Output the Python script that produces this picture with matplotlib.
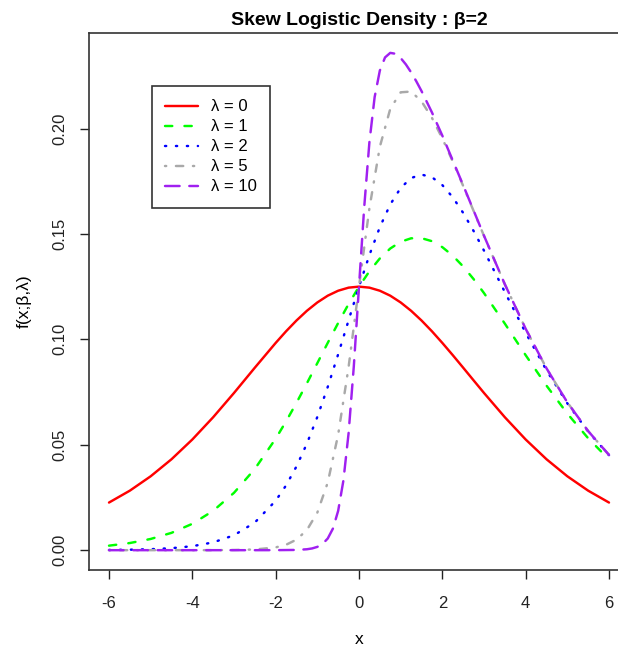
import matplotlib
matplotlib.use("Agg")
import matplotlib.pyplot as plt

plt.rcParams['font.family'] = ['Liberation Sans', 'DejaVu Sans']

# shared grid for lambda = 0, 1, 2
x = [-6, -5.5, -5, -4.5, -4, -3.5, -3, -2.5, -2, -1.75, -1.5, -1.25, -1, -0.75,
     -0.5, -0.25, 0, 0.25, 0.5, 0.75, 1, 1.25, 1.5, 1.75, 2, 2.25, 2.5, 2.75,
     3, 3.5, 4, 4.5, 5, 5.5, 6]

dens_l0 = [0.02259, 0.02823, 0.03505, 0.04313, 0.05250, 0.06306, 0.07457, 0.08656,
           0.09830, 0.10383, 0.10895, 0.11355, 0.11750, 0.12071, 0.12306, 0.12452,
           0.12500, 0.12452, 0.12306, 0.12071, 0.11750, 0.11355, 0.10895, 0.10383,
           0.09830, 0.09251, 0.08656, 0.08055, 0.07457, 0.06306, 0.05250, 0.04313,
           0.03505, 0.02823, 0.02259]

dens_l1 = [0.00214, 0.00339, 0.00532, 0.00822, 0.01251, 0.01867, 0.02721, 0.03855,
           0.05288, 0.06109, 0.06991, 0.07917, 0.08872, 0.09834, 0.10776, 0.11675,
           0.12500, 0.13228, 0.13837, 0.14308, 0.14628, 0.14792, 0.14799, 0.14656,
           0.14373, 0.13968, 0.13456, 0.12858, 0.12194, 0.10746, 0.09248, 0.07804,
           0.06479, 0.05308, 0.04304]

dens_l2 = [0.00011, 0.00023, 0.00047, 0.00095, 0.00189, 0.00370, 0.00707, 0.01313,
           0.02344, 0.03074, 0.03975, 0.05057, 0.06320, 0.07745, 0.09292, 0.10903,
           0.12500, 0.14000, 0.15321, 0.16397, 0.17180, 0.17652, 0.17815, 0.17691,
           0.17317, 0.16738, 0.15998, 0.15141, 0.14208, 0.12243, 0.10310, 0.08531,
           0.06964, 0.05624, 0.04507]

x_l5 = [-6, -5, -4, -3.5, -3, -2.5, -2, -1.75, -1.5, -1.25, -1, -0.75, -0.5, -0.25,
        0, 0.25, 0.5, 0.75, 1, 1.25, 1.5, 1.75, 2, 2.25, 2.5, 2.75, 3, 3.5, 4,
        4.5, 5, 5.5, 6]
dens_l5 = [0.0, 0.0, 0.0, 0.00002, 0.00008, 0.00033, 0.00132, 0.00258, 0.00501,
           0.00956, 0.01783, 0.03210, 0.05481, 0.08682, 0.12500, 0.16221, 0.19132,
           0.20932, 0.21717, 0.21753, 0.21289, 0.20507, 0.19529, 0.18436, 0.17278,
           0.16092, 0.14907, 0.12611, 0.10499, 0.08626, 0.07011, 0.05647, 0.04518]

x_l10 = [-6, -4, -2.5, -2, -1.5, -1.25, -1.125, -1, -0.875, -0.75, -0.625, -0.5,
         -0.375, -0.25, -0.125, 0, 0.125, 0.25, 0.375, 0.5, 0.625, 0.75, 0.875, 1,
         1.125, 1.25, 1.375, 1.5, 1.75, 2, 2.5, 3, 3.5, 4, 4.5, 5, 5.5, 6]
dens_l10 = [0.0, 0.0, 0.0, 0.00001, 0.00012, 0.00044, 0.00083, 0.00157, 0.00296,
            0.00555, 0.01027, 0.01867, 0.03295, 0.05546, 0.08708, 0.12500, 0.16268,
            0.19357, 0.21486, 0.22746, 0.23372, 0.23587, 0.23545, 0.23343, 0.23040,
            0.22665, 0.22241, 0.21778, 0.20765, 0.19660, 0.17311, 0.14915, 0.12613,
            0.10499, 0.08626, 0.07011, 0.05647, 0.04518]

labels = ['λ = 0', 'λ = 1', 'λ = 2', 'λ = 5', 'λ = 10']
colors = ['#FF0000', '#00FF00', '#0000FF', '#A9A9A9', '#A020F0']
dash_styles = [None, (3, 5), (0.5, 4), (0.5, 4, 3, 4), (6, 4)]

fig = plt.figure(figsize=(6.18, 6.48), dpi=100)
ax = fig.add_axes([89 / 618, 78 / 648, 540 / 618, 537 / 648])

series = [(x, dens_l0), (x, dens_l1), (x, dens_l2), (x_l5, dens_l5), (x_l10, dens_l10)]
for (xs, ys), lab, col, ds in zip(series, labels, colors, dash_styles):
    line, = ax.plot(xs, ys, color=col, lw=1.75, label=lab,
                    dash_capstyle='round', solid_capstyle='round')
    if ds is not None:
        line.set_dashes(ds)

ax.set_xlim(-6.48, 6.48)
ax.set_ylim(-0.0094, 0.2453)
ax.set_xticks([-6, -4, -2, 0, 2, 4, 6])
ax.set_xticklabels(['-6', '-4', '-2', '0', '2', '4', '6'])
ax.set_yticks([0.0, 0.05, 0.10, 0.15, 0.20])
ax.set_yticklabels(['0.00', '0.05', '0.10', '0.15', '0.20'], rotation=90, va='center')
ax.tick_params(length=6.5, width=1, labelsize=12, colors='#222222')
ax.tick_params(axis='x', pad=12)
ax.tick_params(axis='y', pad=9)
for sp in ax.spines.values():
    sp.set_linewidth(1.2)
    sp.set_color('#333333')

ax.set_title('Skew Logistic Density : β=2', fontsize=14, fontweight='bold', pad=6)
ax.set_xlabel('x', fontsize=12.5, labelpad=15)
ax.set_ylabel('f(x;β,λ)', fontsize=12.5, labelpad=15)

leg = ax.legend(loc='upper left', bbox_to_anchor=(63 / 540, 1 - 53 / 537),
                fontsize=12, frameon=True, fancybox=False, edgecolor='black',
                handlelength=1.95, handletextpad=0.8, labelspacing=0.3,
                borderpad=0.8, borderaxespad=0)
leg.get_frame().set_linewidth(1.2)

fig.savefig('out.png', dpi=100)
